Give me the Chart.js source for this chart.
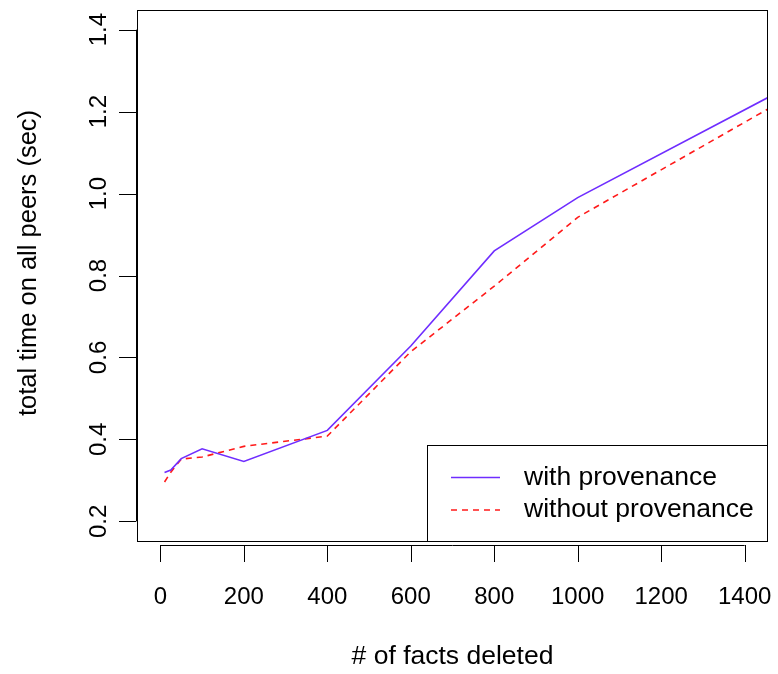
<!DOCTYPE html>
<html>
<head>
<meta charset="utf-8">
<script src="https://cdn.jsdelivr.net/npm/chart.js@4/dist/chart.umd.min.js"></script>
<style>
  html, body { margin: 0; padding: 0; background: #ffffff; }
  #wrap { width: 778px; height: 674px; position: relative; }
</style>
</head>
<body>
<div id="wrap"><canvas id="chart"></canvas></div>
<script>
// facts deleted (x) and total time in seconds for each run
const factsDeleted = [10, 25, 50, 100, 200, 400, 600, 800, 1000, 1500];
const withProvenance = [0.319, 0.325, 0.353, 0.377, 0.346, 0.422, 0.628, 0.860, 0.990, 1.258];
const withoutProvenance = [0.296, 0.320, 0.352, 0.357, 0.383, 0.408, 0.614, 0.774, 0.942, 1.232];
const xTicks = [0, 200, 400, 600, 800, 1000, 1200, 1400];
const yTicks = [0.2, 0.4, 0.6, 0.8, 1.0, 1.2, 1.4];

const FONT = '"Liberation Sans", Arial, Helvetica, sans-serif';

// R-style box, axes, titles and legend, placed through the chart's scales
const rAxes = {
    id: 'rAxes',
    afterDraw(chart) {
        const ctx = chart.ctx;
        const area = chart.chartArea;
        const xs = chart.scales.x;
        const ys = chart.scales.y;
        ctx.save();
        ctx.strokeStyle = '#000000';
        ctx.lineWidth = 1;
        ctx.strokeRect(area.left + 0.5, area.top + 0.5, area.right - area.left - 1, area.bottom - area.top);

        ctx.fillStyle = '#000000';
        ctx.font = '24px ' + FONT;
        ctx.textAlign = 'center';
        ctx.textBaseline = 'middle';

        // x axis
        const ax = area.bottom + 4;
        ctx.beginPath();
        ctx.moveTo(xs.getPixelForValue(xTicks[0]), ax + 0.5);
        ctx.lineTo(xs.getPixelForValue(xTicks[xTicks.length - 1]), ax + 0.5);
        xTicks.forEach(t => {
            const px = Math.round(xs.getPixelForValue(t)) + 0.5;
            ctx.moveTo(px, ax);
            ctx.lineTo(px, ax + 17);
        });
        ctx.stroke();
        xTicks.forEach(t => {
            ctx.fillText(String(t), xs.getPixelForValue(t), 597);
        });

        // y axis
        const ay = area.left - 1;
        ctx.beginPath();
        ctx.moveTo(ay + 0.5, ys.getPixelForValue(yTicks[0]));
        ctx.lineTo(ay + 0.5, ys.getPixelForValue(yTicks[yTicks.length - 1]));
        yTicks.forEach(t => {
            const py = Math.round(ys.getPixelForValue(t)) + 0.5;
            ctx.moveTo(ay, py);
            ctx.lineTo(ay - 17, py);
        });
        ctx.stroke();
        yTicks.forEach(t => {
            ctx.save();
            ctx.translate(99, ys.getPixelForValue(t));
            ctx.rotate(-Math.PI / 2);
            ctx.fillText(t.toFixed(1), 0, 0);
            ctx.restore();
        });

        // axis titles
        ctx.font = '26.5px ' + FONT;
        ctx.fillText('# of facts deleted', (area.left + area.right) / 2, 657);
        ctx.font = '25.5px ' + FONT;
        ctx.save();
        ctx.translate(29, 263);
        ctx.rotate(-Math.PI / 2);
        ctx.fillText('total time on all peers (sec)', 0, 0);
        ctx.restore();

        // legend box in the bottom right corner
        const lx = 427, ly = 445;
        ctx.fillStyle = '#ffffff';
        ctx.fillRect(lx, ly, area.right - lx, area.bottom - ly);
        ctx.strokeStyle = '#000000';
        ctx.strokeRect(lx + 0.5, ly + 0.5, area.right - lx - 1, area.bottom - ly);
        ctx.font = '26.5px ' + FONT;
        const rows = [477.5, 510];
        chart.data.datasets.forEach((ds, i) => {
            ctx.strokeStyle = ds.borderColor;
            ctx.lineWidth = ds.borderWidth;
            ctx.setLineDash(ds.borderDash || []);
            ctx.beginPath();
            ctx.moveTo(451, rows[i]);
            ctx.lineTo(500, rows[i]);
            ctx.stroke();
            ctx.setLineDash([]);
            ctx.fillStyle = '#000000';
            ctx.textAlign = 'left';
            ctx.fillText(ds.label, 524, rows[i]);
        });
        ctx.restore();
    }
};

new Chart(document.getElementById('chart'), {
    type: 'line',
    data: {
        datasets: [
            {
                label: 'with provenance',
                data: factsDeleted.map((x, i) => ({ x: x, y: withProvenance[i] })),
                borderColor: '#6f2dff',
                borderWidth: 1.6,
                pointRadius: 0,
                tension: 0,
                fill: false
            },
            {
                label: 'without provenance',
                data: factsDeleted.map((x, i) => ({ x: x, y: withoutProvenance[i] })),
                borderColor: '#ff1a1a',
                borderWidth: 1.6,
                borderDash: [6, 5],
                pointRadius: 0,
                tension: 0,
                fill: false
            }
        ]
    },
    options: {
        responsive: true,
        maintainAspectRatio: false,
        animation: false,
        layout: {
            padding: { left: 137, right: 10, top: 10, bottom: 133 }
        },
        plugins: {
            legend: { display: false },
            tooltip: { enabled: false }
        },
        scales: {
            x: { type: 'linear', min: -56, max: 1456, display: false },
            y: { type: 'linear', min: 0.152, max: 1.448, display: false }
        }
    },
    plugins: [rAxes]
});
</script>
</body>
</html>
